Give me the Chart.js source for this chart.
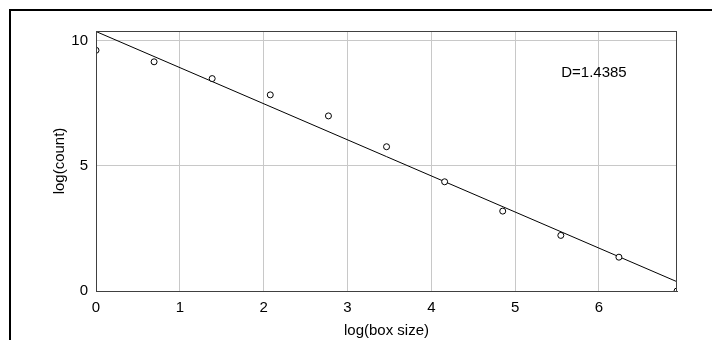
<!DOCTYPE html>
<html>
<head>
<meta charset="utf-8">
<script src="https://cdn.jsdelivr.net/npm/chart.js@4/dist/chart.umd.min.js"></script>
<style>
  html, body { margin: 0; padding: 0; background: #fff; }
  #wrap { position: relative; width: 712px; height: 340px; overflow: hidden; }
  #c { position: absolute; left: 0; top: 0; }
  #frame { position: absolute; left: 9px; top: 9px; width: 800px; height: 400px;
           border-top: 2px solid #000; border-left: 2px solid #000; pointer-events: none; }
</style>
</head>
<body>
<div id="wrap">
  <canvas id="c" width="712" height="340"></canvas>
  <div id="frame"></div>
</div>
<script>
// log(box size) values
const logBoxSize = [0, 0.693, 1.386, 2.079, 2.773, 3.466, 4.159, 4.852, 5.545, 6.238, 6.931];
// log(count) values
const logCount = [9.61, 9.15, 8.48, 7.83, 6.99, 5.76, 4.36, 3.19, 2.22, 1.35, 0.0];
// fitted line end points
const fitX = [0, 6.931];
const fitY = [10.36, 0.37];
// annotation
const annotationText = 'D=1.4385';
const annotationAt = [5.55, 8.72];
const xTitle = 'log(box size)';
const yTitle = 'log(count)';
const xMin = 0, xMax = 6.931, yMin = 0, yMax = 10.38;

const FONT = "'Liberation Sans', Arial, sans-serif";

const points = logBoxSize.map((x, i) => ({ x: x, y: logCount[i] }));
const fit = fitX.map((x, i) => ({ x: x, y: fitY[i] }));

const framePlugin = {
  id: 'framePlugin',
  afterDraw(chart) {
    const { ctx, chartArea: a, scales } = chart;
    ctx.save();
    ctx.strokeStyle = '#404040';
    ctx.lineWidth = 1;
    ctx.strokeRect(Math.round(a.left) + 0.5, Math.round(a.top) + 0.5,
                   Math.round(a.right - a.left) - 1, Math.round(a.bottom - a.top));
    ctx.fillStyle = '#000';
    ctx.font = '15px ' + FONT;
    ctx.textAlign = 'left';
    ctx.textBaseline = 'middle';
    ctx.fillText(annotationText, scales.x.getPixelForValue(annotationAt[0]),
                 scales.y.getPixelForValue(annotationAt[1]));
    ctx.restore();
  }
};

new Chart(document.getElementById('c'), {
  type: 'scatter',
  data: {
    datasets: [
      {
        type: 'scatter',
        data: points,
        pointStyle: 'circle',
        pointRadius: 3,
        pointBorderWidth: 1,
        borderColor: '#000',
        backgroundColor: '#fff',
        clip: 0,
        order: 1
      },
      {
        type: 'line',
        data: fit,
        borderColor: '#000',
        borderWidth: 1,
        pointRadius: 0,
        fill: false,
        clip: 0,
        order: 2
      }
    ]
  },
  options: {
    responsive: false,
    animation: false,
    devicePixelRatio: 1,
    layout: { padding: { top: 31, right: 35, left: 0, bottom: 0 } },
    plugins: { legend: { display: false }, tooltip: { enabled: false } },
    scales: {
      x: {
        type: 'linear',
        min: xMin, max: xMax,
        afterFit(s) { s.height = 49; },
        ticks: { stepSize: 1, includeBounds: false, padding: 8, color: '#000',
                 font: { family: FONT, size: 15 } },
        grid: { color: '#c8c8c8', drawTicks: false, lineWidth: 1 },
        border: { color: '#404040', width: 1 },
        title: { display: true, text: xTitle, color: '#000', padding: { top: 0, bottom: 0 },
                 font: { family: FONT, size: 15 } }
      },
      y: {
        type: 'linear',
        min: yMin, max: yMax,
        afterFit(s) { s.width = 96; },
        ticks: { stepSize: 5, includeBounds: false, padding: 8, color: '#000',
                 font: { family: FONT, size: 15 } },
        grid: { color: '#c8c8c8', drawTicks: false, lineWidth: 1 },
        border: { color: '#404040', width: 1 },
        title: { display: true, text: yTitle, color: '#000', padding: { top: 51, bottom: 0 },
                 font: { family: FONT, size: 15 } }
      }
    }
  },
  plugins: [framePlugin]
});
</script>
</body>
</html>
